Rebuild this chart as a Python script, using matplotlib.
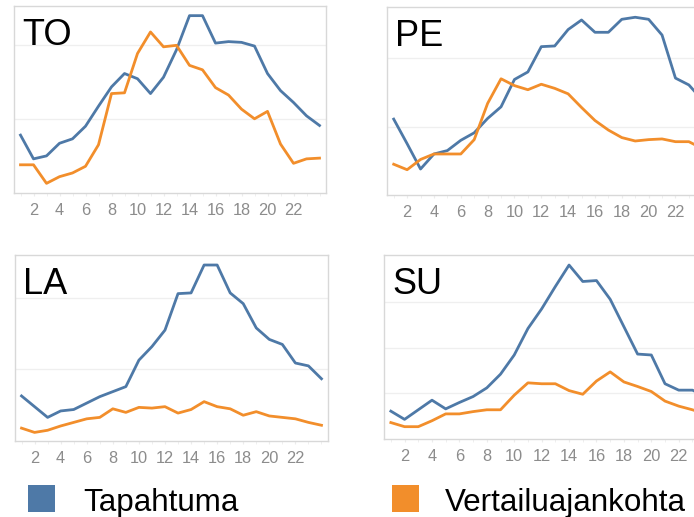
import matplotlib
matplotlib.use("Agg")
import matplotlib.pyplot as plt
from matplotlib.patches import Rectangle

plt.rcParams['font.family'] = ['Liberation Sans', 'DejaVu Sans']

hours = list(range(1, 25))
tick_hours = list(range(2, 24, 2))

# Tapahtuma (blue) and Vertailuajankohta (orange) per weekday
to_event = [78, 46, 50, 67, 73, 90, 117, 143, 161, 154, 134, 156,
            193, 239, 239, 202, 204, 203, 198, 161, 138, 122, 104, 91]
to_ref = [38, 38, 13, 22, 27, 36, 65, 134, 135, 188, 217, 197,
          199, 172, 166, 142, 132, 113, 100, 110, 66, 40, 46, 47]

pe_event = [111, 75, 38, 60, 65, 80, 91, 112, 129, 169, 180, 217,
            218, 242, 256, 238, 238, 257, 260, 257, 234, 171, 161, 139]
pe_ref = [45, 37, 52, 60, 60, 60, 81, 134, 170, 160, 154, 162,
          156, 148, 128, 109, 95, 84, 79, 81, 82, 78, 78, 68]

la_event = [63, 48, 33, 42, 44, 53, 62, 69, 76, 113, 132, 155,
            206, 207, 246, 246, 207, 192, 158, 142, 135, 109, 105, 87]
la_ref = [18, 12, 15, 21, 26, 31, 33, 45, 40, 47, 46, 48,
          39, 44, 55, 48, 45, 36, 41, 35, 33, 31, 26, 22]

su_event = [61, 43, 64, 85, 66, 80, 93, 112, 142, 184, 242, 285,
            334, 381, 345, 347, 306, 246, 186, 184, 121, 107, 107, 93]
su_ref = [36, 27, 27, 40, 55, 55, 60, 64, 64, 96, 123, 121,
          121, 106, 98, 127, 147, 125, 115, 104, 83, 72, 64, 54]

BLUE = '#4e79a7'
ORANGE = '#f28e2b'

W, H = 694, 517
fig = plt.figure(figsize=(W / 100, H / 100), dpi=100)


def px_axes(left, top, right, bottom):
    return fig.add_axes([left / W, 1 - bottom / H, (right - left) / W, (bottom - top) / H])


panels = [
    ('TO', (14, 6, 326, 193), to_event, to_ref, 252, [100, 200]),
    ('PE', (387, 7, 709, 195), pe_event, pe_ref, 275, [100, 200]),
    ('LA', (15, 255, 328, 441), la_event, la_ref, 260, [100, 200]),
    ('SU', (384, 255, 713, 439), su_event, su_ref, 403, [100, 200, 300]),
]

for name, box, ev, ref, ytop, grid in panels:
    ax = px_axes(*box)
    for y in grid:
        ax.axhline(y, color='#efefef', lw=0.9, zorder=0)
    ax.plot(hours, ev, color=BLUE, lw=2.0, solid_joinstyle='round')
    ax.plot(hours, ref, color=ORANGE, lw=2.0, solid_joinstyle='round')
    ax.set_xlim(0.5, 24.5)
    ax.set_ylim(0, ytop)
    ax.set_yticks([])
    ax.set_xticks(tick_hours)
    ax.set_xticklabels([str(h) for h in tick_hours])
    ax.set_xticks(hours, minor=True)
    ax.tick_params(axis='x', which='both', length=2.5, color='#ececec',
                   labelsize=11.8, labelcolor='#8c8c8c', pad=5)
    for s in ax.spines.values():
        s.set_color('#d8d8d8')
        s.set_linewidth(1.0)
    ax.annotate(name, xy=(0, 1), xycoords='axes fraction', xytext=(8, -39),
                textcoords='offset pixels', fontsize=26, va='baseline', ha='left',
                color='black')

# legend
for x0, color, label, tx in [(28, BLUE, 'Tapahtuma', 83), (392, ORANGE, 'Vertailuajankohta', 445)]:
    fig.add_artist(Rectangle((x0 / W, 1 - 512 / H), 27 / W, 27 / H,
                             transform=fig.transFigure, color=color, lw=0))
    fig.text(tx / W, 1 - 511 / H, label, fontsize=22.6, va='baseline', ha='left')

fig.savefig('out.png', dpi=100)
